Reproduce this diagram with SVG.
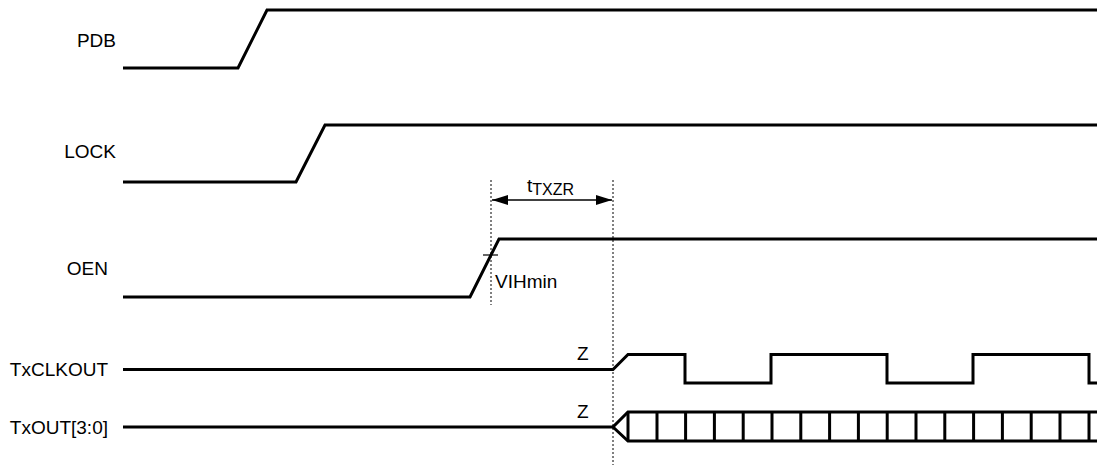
<svg xmlns="http://www.w3.org/2000/svg" width="1097" height="465" viewBox="0 0 1097 465">
<style>
.sig{fill:none;stroke:#000;stroke-width:3;stroke-linejoin:miter}
.bus{fill:none;stroke:#000;stroke-width:3}
.dot{fill:none;stroke:#000;stroke-width:1;stroke-dasharray:2,2}
.lbl{font-family:"Liberation Sans",Arial,sans-serif;font-size:19px;fill:#000}
</style>
<defs>
<marker id="ah" viewBox="0 0 16 10" refX="16" refY="5" markerWidth="16" markerHeight="10" markerUnits="userSpaceOnUse" orient="auto-start-reverse">
<path d="M0,0 L16,5 L0,10 Z" fill="#000"/>
</marker>
</defs>
<rect width="1097" height="465" fill="#fff"/>
<g id="PDB">
<text class="lbl" x="116" y="47" text-anchor="end">PDB</text>
<polyline class="sig" points="123,68 238,68 267,10 1097,10"/>
</g>
<g id="LOCK">
<text class="lbl" x="116" y="158" text-anchor="end">LOCK</text>
<polyline class="sig" points="123,182 296,182 325,125 1097,125"/>
</g>
<g id="OEN">
<text class="lbl" x="108" y="275" text-anchor="end">OEN</text>
<polyline class="sig" points="123,297 470,297 499,239 1097,239"/>
<line x1="483" y1="255" x2="498" y2="255" stroke="#000" stroke-width="1.2"/>
<text class="lbl" x="495" y="288">VIHmin</text>
</g>
<g id="TxCLKOUT">
<text class="lbl" x="108" y="376" text-anchor="end">TxCLKOUT</text>
<text class="lbl" x="577" y="360">Z</text>
<polyline class="sig" points="123,369.5 613,369.5 628,354.5 685,354.5 685,383 771,383 771,354.5 887,354.5 887,383 973,383 973,354.5 1089,354.5 1089,383 1097,383"/>
</g>
<g id="TxOUT">
<text class="lbl" x="108" y="434" text-anchor="end">TxOUT[3:0]</text>
<text class="lbl" x="577" y="418">Z</text>
<line class="bus" x1="123" y1="427" x2="613" y2="427"/>
<polyline class="bus" points="1097,412 628,412 613,427 628,441 1097,441"/>
<path class="bus" d="M628,412V441M657,412V441M685.6,412V441M714.4,412V441M743.2,412V441M772,412V441M800.8,412V441M829.6,412V441M858.4,412V441M887.2,412V441M916,412V441M944.8,412V441M973.6,412V441M1002.4,412V441M1031.2,412V441M1060,412V441M1089,412V441"/>
</g>
<g id="connectors">
<line class="dot" x1="491" y1="180" x2="491" y2="305"/>
<line class="dot" x1="613" y1="180" x2="613" y2="465"/>
<line x1="492" y1="200" x2="612" y2="200" stroke="#000" stroke-width="1.5" marker-start="url(#ah)" marker-end="url(#ah)"/>
<text class="lbl" x="527" y="192">t<tspan font-size="16" dy="3">TXZR</tspan></text>
</g>
</svg>
